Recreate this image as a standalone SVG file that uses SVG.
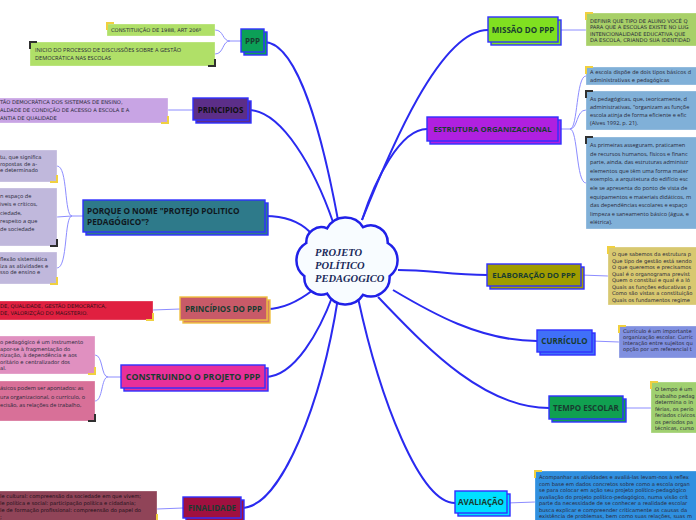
<svg xmlns="http://www.w3.org/2000/svg" width="696" height="520" viewBox="0 0 696 520">
<style>
.main{stroke:#3030ff;stroke-width:1.4}
.lbl{font-family:"Open Sans","DejaVu Sans",sans-serif;font-weight:bold;fill:#183c30;text-anchor:middle}
.sub{stroke:#ffffff;stroke-opacity:0.5;stroke-width:0.6}
.t{font-family:"DejaVu Sans",sans-serif;font-size:5.2px;fill:#2a2a3a}
.o{font-family:"Open Sans",sans-serif;font-size:5.6px;fill:#2a2a3a}
.c{fill:none;stroke:#2a2af0;stroke-width:2}
.s{fill:none;stroke:#8c8cff;stroke-width:1}
.y{fill:none;stroke:#f0d040;stroke-width:2}
.k{fill:none;stroke:#303030;stroke-width:2}
</style>
<rect width="696" height="520" fill="#ffffff"/>
<g id="connectors">
<path class="c" d="M264,42 C300,42 325,150 338,220"/>
<path class="c" d="M248,110 C282,110 315,170 333,222"/>
<path class="c" d="M265,216 C285,216 300,222 310,232"/>
<path class="c" d="M267,309 C285,309 300,300 313,290"/>
<path class="c" d="M265,377 C295,377 320,330 333,295"/>
<path class="c" d="M241,508 C282,508 322,400 338,298"/>
<path class="c" d="M455,503 C420,503 380,400 358,298"/>
<path class="c" d="M549,408 C480,408 420,340 378,297"/>
<path class="c" d="M537,341 C480,341 430,312 393,290"/>
<path class="c" d="M487,275 C450,275 430,270 398,270"/>
<path class="c" d="M488,30 C440,30 390,150 362,220"/>
<path class="c" d="M427,129 C400,129 375,180 362,220"/>
<path class="s" d="M241,41 L230,41 C222,41 224,30 215,30 M230,41 C222,41 224,54 215,54"/>
<path class="s" d="M193,110 L168,110"/>
<path class="s" d="M83,216 L72,216 C64,216 68,166 57,166 M72,216 L57,217 M72,216 C64,216 68,268 57,268"/>
<path class="s" d="M180,309 L153,310"/>
<path class="s" d="M121,377 L108,377 C101,377 103,355 95,355 M108,377 C101,377 103,401 95,401"/>
<path class="s" d="M183,508 L157,509"/>
<path class="s" d="M558,30 L586,30"/>
<path class="s" d="M558,129 L570,129 C578,129 576,76 586,76 M570,129 C578,129 576,110 586,110 M570,129 C578,129 576,183 586,183"/>
<path class="s" d="M581,275 L608,276"/>
<path class="s" d="M592,341 L619,342"/>
<path class="s" d="M623,408 L651,408"/>
<path class="s" d="M507,503 L535,502"/>
</g>
<g id="center">
<path d="M304.4,276.2 A20 20 0 0 1 306.3,243 A15 15 0 0 1 327.1,228.4 A21 21 0 0 1 363.1,227.2 A17 17 0 0 1 387.7,243 A20 20 0 0 1 389.6,276.2 A19 19 0 0 1 363.1,294.8 A21 21 0 0 1 327.1,293.6 A17 17 0 0 1 304.4,276.2 Z" fill="#f8fcff" stroke="#2020e8" stroke-width="2.5"/>
<text font-family="Liberation Serif,serif" font-style="italic" font-weight="bold" font-size="10.5" fill="#1a2a5a"><tspan x="315" y="256">PROJETO</tspan><tspan x="315" y="269">POLÍTICO</tspan><tspan x="315" y="282">PEDAGOGICO</tspan></text>
</g>
<g id="ppp">
<rect x="244" y="32" width="23" height="23" fill="#0ca057" class="main"/>
<rect x="241" y="29" width="23" height="23" fill="#0ca057" class="main"/>
<text class="lbl" x="252.5" y="44" font-size="8">PPP</text>
</g>
<g id="ppp-sub1">
<rect x="107" y="24" width="108" height="12" fill="#b0e068" class="sub"/>
<path class="y" d="M107,30 L107,23 L114,23"/>
<text class="t" x="111" y="32">CONSTITUIÇÃO DE 1988, ART 206º</text>
</g>
<g id="ppp-sub2">
<rect x="30" y="42" width="185" height="24" fill="#b0e068" class="sub"/>
<path class="k" d="M30,49 L30,42 L37,42 M215,59 L215,66 L208,66"/>
<text class="o" x="35" y="52">INICIO DO PROCESSO DE DISCUSSÕES SOBRE A  GESTÃO</text>
<text class="o" x="35" y="60">DEMOCRÁTICA NAS ESCOLAS</text>
</g>
<g id="principios">
<rect x="196" y="101" width="55" height="22" fill="#5c2e88" class="main"/>
<rect x="193" y="98" width="55" height="22" fill="#5c2e88" class="main"/>
<text class="lbl" x="220.5" y="112.5" font-size="8" style="fill:#101010">PRINCIPIOS</text>
</g>
<g id="principios-sub">
<rect x="-2" y="98" width="170" height="25" fill="#c8a4e4" class="sub"/>
<path class="y" d="M168,116 L168,123 L161,123"/>
<text class="t" x="0" y="104">TÃO DEMOCRÁTICA DOS SISTEMAS DE ENSINO,</text>
<text class="t" x="0" y="112">ALDADE DE CONDIÇÃO DE ACESSO A ESCOLA E A</text>
<text class="t" x="0" y="119.5">ANTIA DE QUALIDADE</text>
</g>
<g id="porque">
<rect x="86" y="203" width="182" height="32" fill="#2e7a8a" class="main"/>
<rect x="83" y="200" width="182" height="32" fill="#2e7a8a" class="main"/>
<text class="lbl" x="87" y="214" font-size="8.2" style="text-anchor:start;fill:#101820">PORQUE O NOME "PROTEJO POLITICO</text>
<text class="lbl" x="87" y="225" font-size="8.2" style="text-anchor:start;fill:#101820">PEDAGÓGICO"?</text>
</g>
<g id="porque-sub1">
<rect x="-2" y="150" width="59" height="32" fill="#c0b8dc" class="sub"/>
<path class="y" d="M57,175 L57,182 L50,182"/>
<text class="t" x="0" y="159">tu, que significa</text>
<text class="t" x="0" y="165.5">ropostas de a-</text>
<text class="t" x="0" y="172">e determinado</text>
</g>
<g id="porque-sub2">
<rect x="-2" y="188" width="59" height="58" fill="#c0b8dc" class="sub"/>
<path class="k" d="M57,239 L57,246 L50,246"/>
<text class="o" x="0" y="198">n espaço de</text>
<text class="o" x="0" y="206">iveis e críticos,</text>
<text class="o" x="0" y="214.5">ciedade,</text>
<text class="o" x="0" y="223">respeito a que</text>
<text class="o" x="0" y="231">de sociedade</text>
</g>
<g id="porque-sub3">
<rect x="-2" y="252" width="59" height="32" fill="#c0b8dc" class="sub"/>
<path class="y" d="M57,277 L57,284 L50,284"/>
<text class="t" x="0" y="261">flexão sistemática</text>
<text class="t" x="0" y="267.5">iza as atividades e</text>
<text class="t" x="0" y="274">sso de ensino e</text>
</g>
<g id="principios-ppp">
<rect x="183" y="300" width="87" height="23" fill="#d88060" stroke="#f0c040" stroke-width="1.4"/>
<rect x="180" y="297" width="87" height="23" fill="#c85a68" stroke="#f0c040" stroke-width="1.4"/>
<text class="lbl" x="223.5" y="311.5" font-size="8">PRINCÍPIOS DO PPP</text>
</g>
<g id="principios-ppp-sub">
<rect x="-2" y="301" width="155" height="19" fill="#e02040" class="sub"/>
<path class="y" d="M153,313 L153,320 L146,320"/>
<text class="t" x="0" y="307.5" style="fill:#301018">DE, QUALIDADE, GESTÃO DEMOCRÁTICA,</text>
<text class="t" x="0" y="314.5" style="fill:#301018">DE, VALORIZÇÃO DO MAGSTERIO.</text>
</g>
<g id="construindo">
<rect x="124" y="368" width="144" height="23" fill="#e8309a" class="main"/>
<rect x="121" y="365" width="144" height="23" fill="#e8309a" class="main"/>
<text class="lbl" x="193" y="380" font-size="8.8">CONSTRUINDO O PROJETO PPP</text>
</g>
<g id="construindo-sub1">
<rect x="-2" y="336" width="97" height="38" fill="#e090c0" class="sub"/>
<path class="y" d="M95,367 L95,374 L88,374"/>
<text class="t" x="0" y="344">o pedagógico é um instrumento</text>
<text class="t" x="0" y="350.5">apor-se à fragmentação do</text>
<text class="t" x="0" y="357">nização, à dependência e aos</text>
<text class="t" x="0" y="363.5">oritário e centralizador dos</text>
<text class="t" x="0" y="370">al.</text>
</g>
<g id="construindo-sub2">
<rect x="-2" y="381" width="97" height="40" fill="#d87098" class="sub"/>
<path class="k" d="M95,414 L95,421 L88,421"/>
<text class="o" x="0" y="390">ásicos podem ser apontados: as</text>
<text class="o" x="0" y="399">ura organizacional, o currículo, o</text>
<text class="o" x="0" y="407">ecisão, as relações de trabalho,</text>
</g>
<g id="finalidade">
<rect x="186" y="500" width="58" height="21" fill="#a01040" class="main"/>
<rect x="183" y="497" width="58" height="21" fill="#a01040" class="main"/>
<text class="lbl" x="212" y="510.5" font-size="8">FINALIDADE</text>
</g>
<g id="finalidade-sub">
<rect x="-2" y="491" width="159" height="32" fill="#904458" class="sub"/>
<path class="y" d="M157,514 L157,521"/>
<text class="t" x="0" y="498" style="fill:#201018">le cultural: compreensão da sociedade em que vivem;</text>
<text class="t" x="0" y="505" style="fill:#201018">le política e social: participação política e cidadania;</text>
<text class="t" x="0" y="512" style="fill:#201018">le de formação profissional: compreensão do papel do</text>
<text class="t" x="0" y="519" style="fill:#201018">;</text>
</g>
<g id="missao">
<rect x="491" y="20" width="70" height="25" fill="#80e020" class="main"/>
<rect x="488" y="17" width="70" height="25" fill="#80e020" class="main"/>
<text class="lbl" x="523" y="32.5" font-size="8">MISSÃO DO PPP</text>
</g>
<g id="missao-sub">
<rect x="586" y="13" width="112" height="33" fill="#a8d068" class="sub"/>
<path class="y" d="M586,20 L586,13 L593,13"/>
<text class="t" x="590" y="22.5">DEFINIR QUE TIPO DE ALUNO VOCÊ Q</text>
<text class="t" x="590" y="29">PARA QUE A ESCOLAS EXISTE NO LUG</text>
<text class="t" x="590" y="35.5">INTENCIONALIDADE EDUCATIVA QUE</text>
<text class="t" x="590" y="42">DA ESCOLA, CRIANDO SUA IDENTIDAD</text>
</g>
<g id="estrutura">
<rect x="430" y="120" width="131" height="24" fill="#b020e0" class="main"/>
<rect x="427" y="117" width="131" height="24" fill="#b020e0" class="main"/>
<text class="lbl" x="492.5" y="132" font-size="7.8">ESTRUTURA ORGANIZACIONAL</text>
</g>
<g id="estrutura-sub1">
<rect x="586" y="67" width="112" height="18" fill="#80b0d8" class="sub"/>
<path class="y" d="M586,74 L586,67 L593,67"/>
<text class="t" x="590" y="74">A escola dispõe de dois tipos básicos d</text>
<text class="t" x="590" y="82">administrativas e pedagógicas</text>
</g>
<g id="estrutura-sub2">
<rect x="586" y="91" width="112" height="39" fill="#80b0d8" class="sub"/>
<path class="k" d="M586,98 L586,91 L593,91"/>
<text class="o" x="590" y="101">As pedagógicas, que, teoricamente, d</text>
<text class="o" x="590" y="109">administrativas, "organizam as funçõe</text>
<text class="o" x="590" y="117">escola atinja de forma eficiente e efic</text>
<text class="o" x="590" y="125">(Alves 1992, p. 21).</text>
</g>
<g id="estrutura-sub3">
<rect x="586" y="137" width="112" height="92" fill="#80b0d8" class="sub"/>
<path class="k" d="M586,144 L586,137 L593,137"/>
<text class="o" x="590" y="147"> As primeiras asseguram, praticamen</text>
<text class="o" x="590" y="155.6">de recursos humanos, físicos e financ</text>
<text class="o" x="590" y="164.2">parte, ainda, das estruturas administr</text>
<text class="o" x="590" y="172.8">elementos que têm uma forma mater</text>
<text class="o" x="590" y="181.4">exemplo, a arquitetura do edifício esc</text>
<text class="o" x="590" y="190">ele se apresenta do ponto de vista de</text>
<text class="o" x="590" y="198.6">equipamentos e materiais didáticos, m</text>
<text class="o" x="590" y="207.2">das dependências escolares e espaço</text>
<text class="o" x="590" y="215.8">limpeza e saneamento básico (água, e</text>
<text class="o" x="590" y="224.4">elétrica).</text>
</g>
<g id="elaboracao">
<rect x="490" y="267" width="94" height="22" fill="#a09c00" class="main"/>
<rect x="487" y="264" width="94" height="22" fill="#a09c00" class="main"/>
<text class="lbl" x="534" y="278" font-size="7.8">ELABORAÇÃO DO PPP</text>
</g>
<g id="elaboracao-sub">
<rect x="608" y="247" width="90" height="58" fill="#d8c870" class="sub"/>
<path class="y" d="M608,254 L608,247 L615,247"/>
<text class="t" x="612" y="256">O que sabemos da estrutura p</text>
<text class="t" x="612" y="262.5">Que tipo de gestão está sendo</text>
<text class="t" x="612" y="269">O que queremos e precisamos</text>
<text class="t" x="612" y="275.5">Qual é o organograma previst</text>
<text class="t" x="612" y="282">Quem o constitui e qual é a ló</text>
<text class="t" x="612" y="288.5">Quais as funções educativas p</text>
<text class="t" x="612" y="295">Como são vistas a constituição</text>
<text class="t" x="612" y="301.5">Quais os fundamentos regime</text>
</g>
<g id="curriculo">
<rect x="540" y="333" width="55" height="22" fill="#4070f8" class="main"/>
<rect x="537" y="330" width="55" height="22" fill="#4070f8" class="main"/>
<text class="lbl" x="564.5" y="344" font-size="8">CURRÍCULO</text>
</g>
<g id="curriculo-sub">
<rect x="619" y="326" width="79" height="32" fill="#8090e0" class="sub"/>
<path class="y" d="M619,333 L619,326 L626,326"/>
<text class="t" x="623" y="332.5">Currículo é um importante</text>
<text class="t" x="623" y="338.5">organização escolar. Curríc</text>
<text class="t" x="623" y="344.5">interação entre sujeitos qu</text>
<text class="t" x="623" y="350.5">opção por um referencial t</text>
</g>
<g id="tempo">
<rect x="552" y="399" width="74" height="23" fill="#10a050" class="main"/>
<rect x="549" y="396" width="74" height="23" fill="#10a050" class="main"/>
<text class="lbl" x="586" y="410.5" font-size="8">TEMPO ESCOLAR</text>
</g>
<g id="tempo-sub">
<rect x="651" y="382" width="47" height="51" fill="#a0d070" class="sub"/>
<path class="y" d="M651,389 L651,382 L658,382"/>
<text class="t" x="655" y="391">O tempo é um</text>
<text class="t" x="655" y="397.5">trabalho pedag</text>
<text class="t" x="655" y="404">determina o in</text>
<text class="t" x="655" y="410.5">férias, os perío</text>
<text class="t" x="655" y="417">feriados cívicos</text>
<text class="t" x="655" y="423.5">os períodos pa</text>
<text class="t" x="655" y="430">técnicas, curso</text>
</g>
<g id="avaliacao">
<rect x="458" y="494" width="52" height="22" fill="#00e0ff" class="main"/>
<rect x="455" y="491" width="52" height="22" fill="#00e0ff" class="main"/>
<text class="lbl" x="481" y="505" font-size="8">AVALIAÇÃO</text>
</g>
<g id="avaliacao-sub">
<rect x="535" y="471" width="163" height="52" fill="#3090e0" class="sub"/>
<path class="y" d="M535,478 L535,471 L542,471"/>
<text class="t" x="539" y="479">Acompanhar as atividades e avaliá-las levam-nos à reflex</text>
<text class="t" x="539" y="485.5">com base em dados concretos sobre como a escola organ</text>
<text class="t" x="539" y="492">se para colocar em ação seu projeto político-pedagógico</text>
<text class="t" x="539" y="498.5">avaliação do projeto político-pedagógico, numa visão crít</text>
<text class="t" x="539" y="505">parte da necessidade de se conhecer a realidade escolar</text>
<text class="t" x="539" y="511.5">busca explicar e compreender criticamente as causas da</text>
<text class="t" x="539" y="518">existência de problemas, bem como suas relações, suas m</text>
</g>
</svg>
